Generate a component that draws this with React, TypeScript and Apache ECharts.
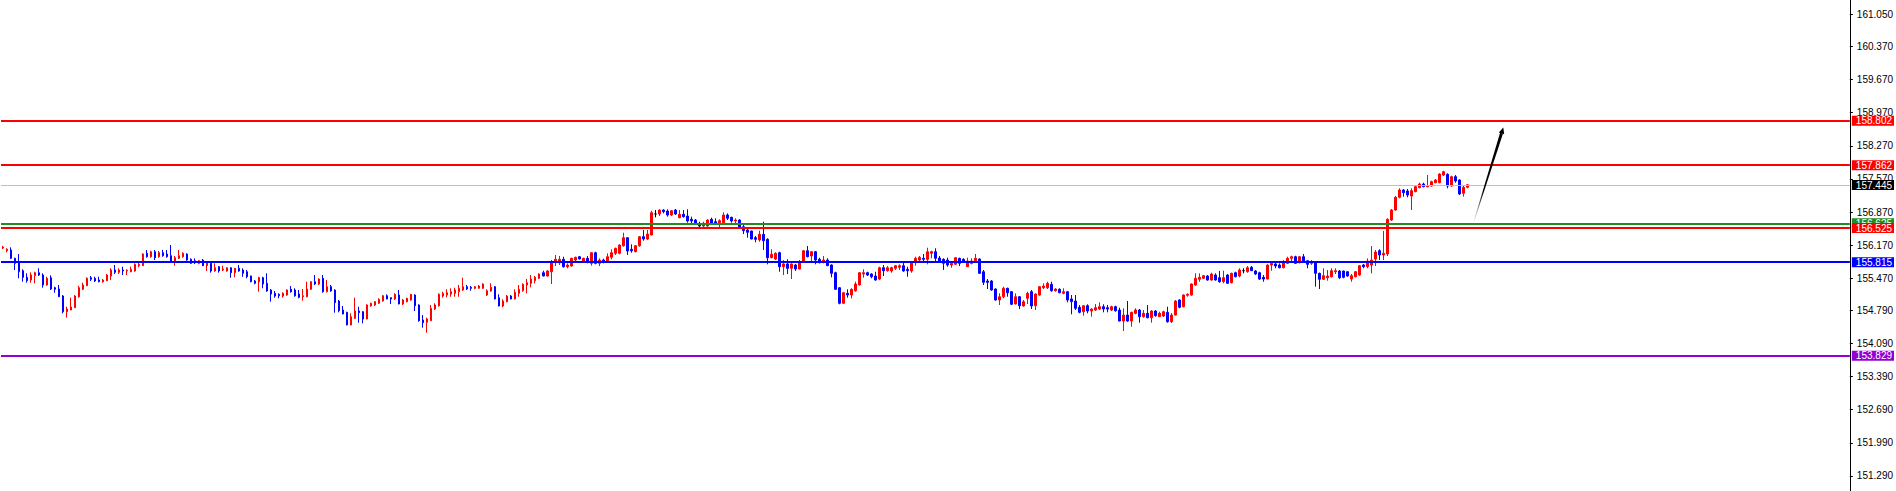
import React, { useEffect, useRef } from "react";
import * as echarts from "echarts";

// OHLC candles: [open, close, low, high]
const CANDLES: [number, number, number, number][] = [
  [156.109,156.130,156.088,156.152],[156.052,156.082,156.018,156.103],[156.067,155.891,155.876,156.124],[155.891,155.785,155.644,155.904],
  [155.819,155.608,155.468,155.982],[155.629,155.489,155.396,155.659],[155.489,155.418,155.375,155.574],[155.432,155.538,155.375,155.595],
  [155.523,155.587,155.362,155.608],[155.587,155.538,155.517,155.680],[155.538,155.327,155.270,155.574],[155.327,155.468,155.312,155.502],
  [155.481,155.242,155.221,155.532],[155.270,155.236,155.164,155.291],[155.242,155.079,155.073,155.327],[155.094,154.762,154.728,155.115],
  [154.762,154.819,154.635,154.868],[154.798,154.861,154.798,155.058],[154.847,155.094,154.847,155.115],[155.079,155.270,155.058,155.312],
  [155.236,155.327,155.221,155.375],[155.312,155.468,155.305,155.489],[155.481,155.447,155.411,155.517],[155.468,155.411,155.390,155.502],
  [155.432,155.396,155.384,155.502],[155.396,155.432,155.375,155.453],[155.418,155.538,155.411,155.559],[155.517,155.644,155.432,155.680],
  [155.644,155.595,155.559,155.750],[155.595,155.644,155.559,155.680],[155.644,155.623,155.538,155.714],[155.623,155.638,155.538,155.659],
  [155.608,155.659,155.595,155.714],[155.623,155.764,155.608,155.785],[155.735,155.764,155.701,155.798],[155.735,155.982,155.728,155.997],
  [155.997,155.925,155.904,156.067],[155.925,156.031,155.904,156.052],[156.031,155.904,155.855,156.067],[155.925,156.010,155.904,156.046],
  [156.010,155.946,155.925,156.067],[155.982,155.925,155.904,156.067],[155.946,155.834,155.819,156.172],[155.834,155.904,155.735,155.940],
  [155.891,155.946,155.876,156.067],[155.925,155.997,155.904,156.018],[155.982,155.855,155.840,155.997],[155.870,155.785,155.771,155.891],
  [155.840,155.798,155.771,155.891],[155.785,155.840,155.764,155.855],[155.855,155.735,155.728,155.876],[155.735,155.798,155.623,155.807],
  [155.785,155.623,155.587,155.798],[155.623,155.692,155.608,155.785],[155.714,155.623,155.587,155.728],[155.644,155.665,155.623,155.735],
  [155.623,155.692,155.608,155.700],[155.692,155.587,155.481,155.700],[155.587,155.680,155.489,155.688],[155.680,155.623,155.608,155.750],
  [155.644,155.574,155.502,155.680],[155.608,155.502,155.468,155.644],[155.517,155.396,155.384,155.525],[155.411,155.362,155.341,155.432],
  [155.396,155.481,155.185,155.502],[155.481,155.348,155.257,155.502],[155.362,155.200,155.185,155.574],[155.221,155.136,154.974,155.242],
  [155.151,155.094,155.058,155.200],[155.130,155.100,155.045,155.151],[155.094,155.151,155.058,155.172],[155.115,155.221,155.100,155.236],
  [155.236,155.185,155.164,155.305],[155.221,155.100,155.079,155.257],[155.136,155.066,155.045,155.221],[155.079,155.100,154.995,155.242],
  [155.079,155.242,155.066,155.396],[155.236,155.396,155.221,155.411],[155.396,155.348,155.327,155.538],[155.348,155.453,155.327,155.468],
  [155.468,155.185,155.164,155.538],[155.185,155.291,155.172,155.432],[155.291,155.200,155.185,155.327],[155.221,154.953,154.741,155.236],
  [154.988,154.783,154.749,155.010],[154.798,154.714,154.707,154.883],[154.749,154.481,154.475,154.762],[154.481,154.657,154.475,154.728],
  [154.622,154.777,154.608,155.058],[154.777,154.741,154.530,154.868],[154.762,154.608,154.517,154.777],[154.608,154.904,154.601,154.919],
  [154.883,154.940,154.868,154.953],[154.904,154.974,154.883,154.988],[154.940,155.024,154.925,155.045],[154.988,155.100,154.974,155.115],
  [155.100,155.031,155.024,155.130],[155.058,155.031,154.925,155.066],[155.031,155.130,155.010,155.151],[155.115,154.925,154.919,155.221],
  [154.925,155.010,154.904,155.031],[154.974,155.045,154.961,155.058],[155.010,155.130,154.995,155.136],[155.115,154.889,154.777,155.130],
  [154.904,154.572,154.551,154.919],[154.587,154.530,154.424,154.692],[154.538,154.608,154.318,154.635],[154.572,154.834,154.565,154.904],
  [154.819,154.904,154.798,154.940],[154.889,155.130,154.868,155.151],[155.094,155.151,155.058,155.185],[155.115,155.164,155.066,155.236],
  [155.136,155.185,155.079,155.257],[155.151,155.221,155.079,155.270],[155.185,155.257,155.079,155.327],[155.221,155.291,155.200,155.481],
  [155.291,155.242,155.221,155.327],[155.278,155.257,155.206,155.305],[155.257,155.291,155.236,155.305],[155.257,155.305,155.250,155.327],
  [155.257,155.348,155.242,155.362],[155.115,155.206,155.094,155.236],[155.200,155.278,155.185,155.362],[155.291,155.031,155.024,155.305],
  [155.058,154.883,154.876,155.130],[154.883,154.988,154.855,155.024],[154.974,155.094,154.961,155.115],[155.094,155.031,155.024,155.115],
  [155.031,155.172,155.024,155.236],[155.151,155.236,155.079,155.327],[155.206,155.341,155.185,155.362],[155.327,155.375,155.151,155.453],
  [155.362,155.453,155.278,155.538],[155.418,155.489,155.362,155.517],[155.468,155.559,155.453,155.574],[155.587,155.517,155.510,155.629],
  [155.517,155.623,155.502,155.644],[155.608,155.819,155.348,155.855],[155.834,155.870,155.728,155.961],[155.798,155.870,155.750,155.940],
  [155.870,155.714,155.692,155.925],[155.714,155.750,155.680,155.785],[155.728,155.891,155.714,155.904],[155.855,155.912,155.834,155.925],
  [155.925,155.876,155.870,155.940],[155.819,155.891,155.807,155.904],[155.891,155.807,155.785,155.940],[155.785,156.010,155.735,156.018],
  [156.010,155.785,155.764,156.031],[155.785,155.855,155.728,155.891],[155.855,155.807,155.785,155.883],[155.819,155.925,155.798,155.997],
  [155.912,156.010,155.870,156.082],[155.997,156.103,155.961,156.115],[155.997,156.172,155.976,156.187],[156.157,156.327,156.136,156.432],
  [156.327,156.046,155.961,156.335],[156.082,156.052,156.010,156.187],[156.031,156.157,156.018,156.172],[156.157,156.348,156.136,156.363],
  [156.348,156.299,156.263,156.490],[156.299,156.405,156.278,156.490],[156.384,156.855,156.377,156.897],[156.828,156.828,156.757,156.912],
  [156.828,156.912,156.785,156.927],[156.912,156.876,156.842,156.927],[156.891,156.807,156.771,156.927],[156.807,156.897,156.785,156.912],
  [156.912,156.828,156.807,156.933],[156.750,156.821,156.737,156.912],[156.821,156.771,156.750,156.912],[156.785,156.680,156.644,156.927],
  [156.715,156.680,156.631,156.771],[156.701,156.631,156.616,156.722],[156.631,156.574,156.525,156.665],[156.574,156.631,156.546,156.665],
  [156.574,156.701,156.559,156.715],[156.715,156.631,156.616,156.750],[156.665,156.631,156.595,156.737],[156.644,156.686,156.546,156.715],
  [156.644,156.807,156.631,156.864],[156.807,156.737,156.701,156.842],[156.757,156.680,156.644,156.771],[156.680,156.701,156.631,156.737],
  [156.701,156.546,156.525,156.715],[156.559,156.475,156.405,156.595],[156.490,156.441,156.327,156.525],[156.468,156.299,156.293,156.475],
  [156.327,156.293,156.229,156.363],[156.278,156.398,156.242,156.475],[156.398,156.263,156.067,156.665],[156.293,155.904,155.764,156.314],
  [155.904,155.976,155.891,156.082],[155.876,155.997,155.855,156.018],[156.010,155.714,155.608,156.031],[155.714,155.771,155.538,155.855],
  [155.771,155.680,155.559,155.870],[155.680,155.771,155.453,155.785],[155.750,155.665,155.623,155.771],[155.665,155.807,155.659,155.855],
  [155.834,156.052,155.819,156.067],[156.052,155.925,155.912,156.151],[155.940,156.031,155.834,156.046],[156.031,155.855,155.764,156.046],
  [155.870,155.798,155.785,155.904],[155.819,155.855,155.785,155.940],[155.855,155.735,155.728,155.891],[155.750,155.574,155.489,155.764],
  [155.587,155.236,155.221,155.608],[155.270,154.940,154.919,155.278],[154.940,155.164,154.933,155.172],[155.151,155.115,155.058,155.236],
  [155.115,155.236,155.045,155.257],[155.206,155.348,155.185,155.396],[155.327,155.587,155.320,155.595],[155.559,155.587,155.481,155.659],
  [155.587,155.538,155.517,155.608],[155.559,155.502,155.468,155.574],[155.517,155.432,155.418,155.608],[155.453,155.692,155.432,155.714],
  [155.692,155.629,155.517,155.750],[155.629,155.692,155.608,155.728],[155.623,155.692,155.587,155.714],[155.680,155.735,155.644,155.750],
  [155.701,155.735,155.644,155.764],[155.735,155.623,155.608,155.798],[155.659,155.629,155.502,155.714],[155.623,155.798,155.587,155.819],
  [155.819,155.891,155.735,155.925],[155.855,155.912,155.834,155.940],[155.891,155.870,155.819,155.982],[155.870,156.031,155.764,156.115],
  [155.997,156.031,155.891,156.052],[156.031,155.891,155.819,156.103],[155.897,155.834,155.792,155.940],[155.870,155.785,155.644,155.891],
  [155.855,155.750,155.714,155.904],[155.750,155.785,155.692,155.798],[155.764,155.904,155.750,155.912],[155.891,155.785,155.728,155.904],
  [155.870,155.819,155.798,155.891],[155.714,155.834,155.707,155.904],[155.785,155.834,155.764,155.891],[155.840,155.891,155.834,155.982],
  [155.876,155.574,155.559,155.891],[155.608,155.384,155.327,155.644],[155.411,155.384,155.242,155.453],[155.411,155.221,155.206,155.432],
  [155.242,155.010,154.995,155.257],[155.010,155.079,154.904,155.151],[155.079,155.257,155.045,155.291],[155.257,155.164,155.079,155.270],
  [155.185,154.919,154.904,155.200],[154.925,155.079,154.919,155.151],[155.079,154.889,154.819,155.094],[154.883,154.974,154.868,155.010],
  [155.045,155.151,154.925,155.185],[155.185,154.883,154.819,155.221],[154.889,155.136,154.798,155.151],[155.115,155.291,155.100,155.305],
  [155.270,155.305,155.242,155.362],[155.270,155.362,155.242,155.396],[155.341,155.206,155.185,155.396],[155.206,155.242,155.185,155.257],
  [155.236,155.164,155.151,155.257],[155.151,155.185,155.130,155.257],[155.185,155.010,154.961,155.200],[155.031,154.974,154.707,155.115],
  [154.988,154.834,154.798,155.115],[154.855,154.749,154.728,154.904],[154.762,154.889,154.678,154.904],[154.889,154.777,154.728,154.919],
  [154.777,154.819,154.657,154.834],[154.798,154.847,154.777,154.925],[154.819,154.868,154.798,154.961],[154.868,154.819,154.749,154.919],
  [154.847,154.819,154.749,154.904],[154.798,154.868,154.777,154.889],[154.868,154.783,154.762,154.889],[154.798,154.565,154.558,154.847],
  [154.565,154.692,154.354,154.834],[154.692,154.565,154.551,154.988],[154.565,154.749,154.445,154.762],[154.728,154.798,154.707,154.834],
  [154.798,154.657,154.530,154.819],[154.657,154.728,154.635,154.798],[154.728,154.635,154.622,154.904],[154.635,154.777,154.530,154.798],
  [154.777,154.678,154.657,154.798],[154.657,154.728,154.650,154.762],[154.671,154.762,154.650,154.783],[154.749,154.551,154.530,154.868],
  [154.551,154.692,154.523,154.734],[154.692,154.988,154.685,155.010],[155.010,154.855,154.834,155.024],[154.868,155.115,154.855,155.130],
  [155.109,155.130,155.079,155.151],[155.115,155.348,155.100,155.362],[155.327,155.468,155.312,155.574],[155.447,155.489,155.396,155.574],
  [155.468,155.523,155.453,155.538],[155.517,155.432,155.418,155.538],[155.432,155.559,155.418,155.587],[155.538,155.432,155.418,155.574],
  [155.481,155.396,155.375,155.623],[155.396,155.481,155.362,155.629],[155.538,155.362,155.348,155.559],[155.375,155.574,155.362,155.587],
  [155.587,155.502,155.489,155.608],[155.517,155.644,155.489,155.680],[155.629,155.629,155.574,155.680],[155.608,155.692,155.587,155.728],
  [155.701,155.629,155.623,155.728],[155.623,155.559,155.538,155.644],[155.587,155.453,155.432,155.608],[155.489,155.453,155.396,155.538],
  [155.453,155.750,155.447,155.764],[155.750,155.785,155.629,155.834],[155.771,155.728,155.680,155.819],[155.750,155.692,155.680,155.785],
  [155.692,155.819,155.680,155.855],[155.785,155.891,155.771,155.925],[155.891,155.925,155.819,155.946],[155.925,155.785,155.771,155.946],
  [155.798,155.925,155.785,155.940],[155.925,155.819,155.798,155.982],[155.840,155.764,155.680,155.855],[155.785,155.819,155.750,155.855],
  [155.807,155.574,155.291,155.819],[155.574,155.447,155.242,155.587],[155.447,155.523,155.432,155.680],[155.481,155.517,155.418,155.644],
  [155.502,155.629,155.489,155.680],[155.608,155.629,155.559,155.680],[155.623,155.481,155.453,155.644],[155.623,155.489,155.468,155.630],
  [155.608,155.517,155.502,155.623],[155.453,155.523,155.396,155.559],[155.502,155.608,155.489,155.623],[155.538,155.735,155.523,155.750],
  [155.750,155.714,155.680,155.771],[155.714,155.834,155.680,155.891],[155.750,155.855,155.574,156.151],[155.876,156.024,155.728,156.067],
  [156.052,155.961,155.855,156.082],[155.961,155.997,155.855,156.469],[155.982,156.715,155.940,156.737],[156.701,156.912,156.680,156.933],
  [156.912,157.181,156.897,157.208],[157.181,157.335,157.160,157.371],[157.335,157.278,157.194,157.356],[157.314,157.229,157.181,157.356],
  [157.208,157.321,156.912,157.371],[157.300,157.405,157.287,157.441],[157.384,157.462,157.371,157.490],[157.462,157.405,157.393,157.490],
  [157.405,157.420,157.393,157.652],[157.420,157.511,157.405,157.532],[157.490,157.547,157.477,157.568],[157.490,157.673,157.477,157.688],
  [157.652,157.722,157.631,157.743],[157.667,157.420,157.371,157.688],[157.420,157.617,157.405,157.638],[157.617,157.526,157.490,157.652],
  [157.547,157.251,157.229,157.561],[157.265,157.393,157.194,157.420],[157.393,157.445,157.371,157.460],
];

const DOJI_INDEX = [163, 310];
const SLOT_COUNT = 462;

const Y_MIN = 150.972;
const Y_MAX = 161.352;
const Y_TICKS = [161.05, 160.37, 159.67, 158.97, 158.27, 157.57, 156.87, 156.17, 155.47, 154.79, 154.09, 153.39, 152.69, 151.99, 151.29];

const LEVEL_VALUES = [153.829, 155.815, 156.625, 156.525, 157.445, 157.862, 158.802];
const LEVEL_LINE_COLORS = ["#9400d3", "#0000ff", "#228b22", "#ff0000", "#c0c0c0", "#ff0000", "#ff0000"];
const LEVEL_BOX_COLORS = ["#9400d3", "#0000ff", "#228b22", "#ff0000", "#000000", "#ff0000", "#ff0000"];
const LEVEL_WIDTHS = [2, 2, 2, 2, 1, 2, 2];

const ARROW_FROM: [number, number] = [367.6, 156.68];
const ARROW_TO: [number, number] = [374.9, 158.655];

const UP = "#ff0000";
const DOWN = "#0000ff";
const FONT = "Liberation Sans";

export default function App() {
  const ref = useRef<HTMLDivElement>(null);
  useEffect(() => {
    if (!ref.current) return;
    const chart = echarts.init(ref.current, null, { renderer: "svg" });
    const categories = Array.from({ length: SLOT_COUNT }, (_, i) => String(i));
    const data = CANDLES.map((c, i) =>
      DOJI_INDEX.includes(i)
        ? { value: c, itemStyle: { color: "#000", color0: "#000", borderColor: "#000", borderColor0: "#000" } }
        : { value: c }
    );
    chart.setOption({
      animation: false,
      backgroundColor: "#ffffff",
      grid: { left: 1, right: 46, top: 0, bottom: 0, containLabel: false },
      xAxis: { type: "category", data: categories, boundaryGap: true, show: false },
      yAxis: {
        type: "value",
        position: "right",
        min: Y_MIN,
        max: Y_MAX,
        splitLine: { show: false },
        axisLine: { show: true, lineStyle: { color: "#000", width: 1 } },
        axisTick: { show: true, customValues: Y_TICKS, length: 3, lineStyle: { color: "#000" } },
        axisLabel: {
          show: true,
          customValues: Y_TICKS,
          formatter: (v: number) => v.toFixed(3),
          color: "#000",
          fontSize: 10,
          fontFamily: FONT,
          margin: 7,
        },
      },
      series: [
        {
          type: "candlestick",
          data,
          barWidth: 2,
          itemStyle: { color: UP, color0: DOWN, borderColor: UP, borderColor0: DOWN, borderWidth: 1 },
          markLine: {
            silent: true,
            symbol: ["none", "none"],
            animation: false,
            data: LEVEL_VALUES.map((v, i) => ({
              yAxis: v,
              lineStyle: { color: LEVEL_LINE_COLORS[i], width: LEVEL_WIDTHS[i], type: "solid" },
              label: {
                show: true,
                position: "end",
                distance: 2,
                formatter: v.toFixed(3),
                color: "#fff",
                backgroundColor: LEVEL_BOX_COLORS[i],
                fontSize: 10,
                fontFamily: FONT,
                lineHeight: 10,
                padding: [0, 2, 0, 4],
              },
            })),
          },
        },
      ],
    });

    const toPx = (p: [number, number]) => {
      const i0 = Math.floor(p[0]);
      const a = chart.convertToPixel({ xAxisIndex: 0, yAxisIndex: 0 }, [i0, p[1]]) as number[];
      const b = chart.convertToPixel({ xAxisIndex: 0, yAxisIndex: 0 }, [i0 + 1, p[1]]) as number[];
      return [a[0] + (p[0] - i0) * (b[0] - a[0]), a[1]];
    };
    const B = toPx(ARROW_FROM);
    const H = toPx(ARROW_TO);
    const dx = H[0] - B[0];
    const dy = H[1] - B[1];
    const len = Math.hypot(dx, dy);
    const ux = dx / len, uy = dy / len;
    const nx = -uy, ny = ux;
    const T = [H[0] - ux * 6, H[1] - uy * 6];
    const shaft = [
      [B[0] + nx * 0.3, B[1] + ny * 0.3],
      [T[0] + nx * 1.5, T[1] + ny * 1.5],
      [T[0] - nx * 1.5, T[1] - ny * 1.5],
      [B[0] - nx * 0.3, B[1] - ny * 0.3],
    ];
    const head = [
      [H[0], H[1]],
      [T[0] + nx * 2.8, T[1] + ny * 2.8],
      [T[0] - nx * 2.8, T[1] - ny * 2.8],
    ];
    chart.setOption({
      graphic: [
        {
          type: "polygon",
          shape: { points: shaft },
          style: {
            fill: new echarts.graphic.LinearGradient(0, 1, 0, 0, [
              { offset: 0, color: "#e6e6e6" },
              { offset: 0.35, color: "#000000" },
              { offset: 1, color: "#000000" },
            ]),
          },
          z: 100,
        },
        { type: "polygon", shape: { points: head }, style: { fill: "#000" }, z: 100 },
      ],
    });
    return () => chart.dispose();
  }, []);
  return (
    <div
      ref={ref}
      style={{ position: "fixed", left: 0, top: 0, width: 1896, height: 491, background: "#fff" }}
    />
  );
}
